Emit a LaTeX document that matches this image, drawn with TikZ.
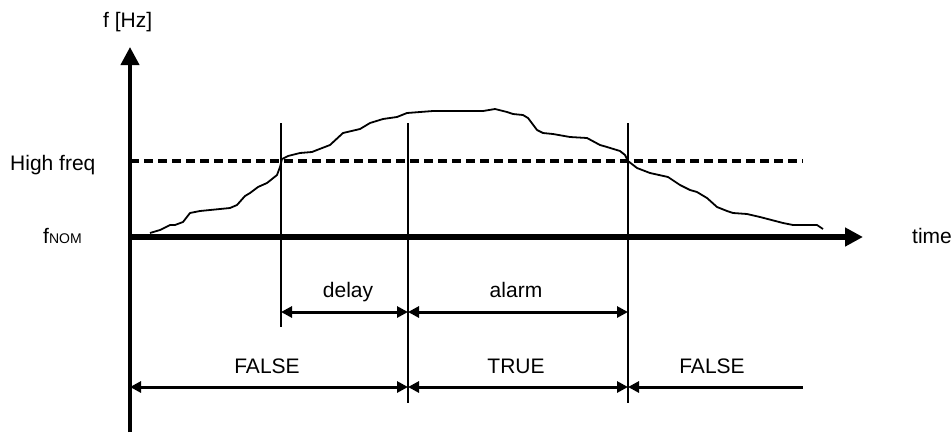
\documentclass[tikz,border=0pt]{standalone}
\usepackage{fontspec}
\setmainfont{Liberation Sans}
\usetikzlibrary{arrows.meta}
\tikzset{
  lbl/.style={font=\fontsize{21}{25}\selectfont, inner sep=0pt},
  axisline/.style={line width=#1, -{Triangle[length=18pt,width=18pt]}},
  guide/.style={line width=1.8pt},
  dimarrow/.style={line width=3pt, {Triangle[length=11pt,width=11pt]}-{Triangle[length=11pt,width=11pt]}},
  halfarrow/.style={line width=3pt, {Triangle[length=11pt,width=11pt]}-},
  threshold/.style={line width=3.5pt, dash pattern=on 9pt off 5pt},
  signal/.style={line width=1.8pt, line join=round}
}
\begin{document}
\begin{tikzpicture}[x=1pt,y=-1pt]
\useasboundingbox (0,0) rectangle (951,432);
% key coordinates
\coordinate (ybot) at (130,432);
\coordinate (ytop) at (130,47);
\coordinate (xorg) at (128,237);
\coordinate (xend) at (863,237);
\coordinate (hfL) at (130,161);
\coordinate (hfR) at (803,161);
\coordinate (g1t) at (281,123); \coordinate (g1b) at (281,327);
\coordinate (g2t) at (408,123); \coordinate (g2b) at (408,403);
\coordinate (g3t) at (628,123); \coordinate (g3b) at (628,403);
\coordinate (d1) at (281,312); \coordinate (d2) at (408,312); \coordinate (d3) at (628,312);
\coordinate (s0) at (130,387); \coordinate (s1) at (408,387); \coordinate (s2) at (628,387); \coordinate (s3) at (803,387);
% guides
\draw[guide] (g1t) -- (g1b);
\draw[guide] (g2t) -- (g2b);
\draw[guide] (g3t) -- (g3b);
% threshold
\draw[threshold] (hfL) -- (hfR);
% signal
\draw[signal] (150,233) -- (160,230) -- (170,225) -- (175,225) -- (183,222) -- (190,213) -- (200,211) -- (230,208) -- (237,205) -- (245,196) -- (250,193) -- (258,187) -- (267,183) -- (277,175) -- (280,167) -- (282,159) -- (288,156) -- (300,153) -- (312,152) -- (317,150) -- (330,145) -- (343,133) -- (360,129) -- (370,123) -- (383,119) -- (397,117) -- (407,113) -- (433,111) -- (483,111) -- (495,109) -- (507,112) -- (513,114) -- (523,115) -- (528,118) -- (537,130) -- (543,133) -- (553,134) -- (570,137) -- (587,138) -- (600,145) -- (607,147) -- (620,151) -- (625,155) -- (628,161) -- (637,168) -- (650,173) -- (668,177) -- (680,185) -- (690,190) -- (697,192) -- (707,198) -- (717,207) -- (727,211) -- (733,213) -- (747,214) -- (760,217) -- (783,223) -- (793,225) -- (817,225) -- (823,229);
% axes
\draw[axisline=4pt] (ybot) -- (ytop);
\draw[axisline=6pt] (xorg) -- (xend);
% dimension arrows
\draw[dimarrow] (d1) -- (d2);
\draw[dimarrow] (d2) -- (d3);
\draw[dimarrow] (s0) -- (s1);
\draw[dimarrow] (s1) -- (s2);
\draw[halfarrow] (s2) -- (s3);
% labels
\node[lbl, anchor=base west] (fhz) at (103,27) {f [Hz]};
\node[lbl, anchor=base west] (hf) at (10,170) {High freq};
\node[lbl, anchor=base west] (fnom) at (43,243) {f{\fontsize{14}{14}\selectfont NOM}};
\node[lbl, anchor=base west] (time) at (912,243) {time};
\node[lbl, anchor=base] (delay) at (348,297) {delay};
\node[lbl, anchor=base] (alarm) at (516,297) {alarm};
\node[lbl, anchor=base] (false1) at (267,373) {FALSE};
\node[lbl, anchor=base] (true) at (516,373) {TRUE};
\node[lbl, anchor=base] (false2) at (712,373) {FALSE};
\end{tikzpicture}
\end{document}
